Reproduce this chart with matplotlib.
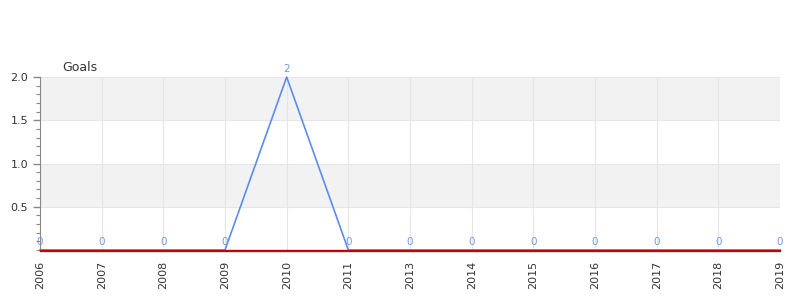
import matplotlib.pyplot as plt
from matplotlib.ticker import MultipleLocator, FixedLocator

years = ["2006", "2007", "2008", "2009", "2010", "2011", "2013",
         "2014", "2015", "2016", "2017", "2018", "2019"]
goals = [0, 0, 0, 0, 2, 0, 0, 0, 0, 0, 0, 0, 0]

fig = plt.figure(figsize=(8, 3), dpi=100)
ax = fig.add_axes((0.05, 0.1667, 0.925, 0.5766))

# spine position first: it resets the axis tick settings
for s in ["top", "right"]:
    ax.spines[s].set_visible(False)
ax.spines["bottom"].set_position(("outward", 1))
ax.spines["left"].set_color("#888888")
ax.spines["bottom"].set_color("#444444")
ax.spines["bottom"].set_linewidth(1)

x = list(range(len(years)))
ax.set_xlim(0, len(years) - 1)
ax.set_ylim(0, 2)

# alternating bands
ax.axhspan(0.5, 1.0, color="#f2f2f2", zorder=0, lw=0)
ax.axhspan(1.5, 2.0, color="#f2f2f2", zorder=0, lw=0)

ax.yaxis.set_major_locator(FixedLocator([0.5, 1.0, 1.5, 2.0]))
ax.yaxis.set_minor_locator(MultipleLocator(0.1))
ax.set_xticks(x)
ax.set_xticklabels(years, rotation=90, fontsize=8, color="#333333")
ax.tick_params(axis="y", labelsize=8, labelcolor="#333333", color="#888888",
               length=5, width=1)
ax.tick_params(axis="y", which="minor", color="#888888", length=3, width=0.8)
ax.tick_params(axis="x", length=0, pad=7)

ax.grid(True, color="#e6e6e6", lw=0.8, zorder=1)

ax.plot(x, goals, color="#5b8def", lw=1.2, zorder=3, clip_on=False)
# zero threshold line
ax.axhline(0, color="#c00000", lw=1.0, zorder=4, clip_on=False)

for xi, g in zip(x, goals):
    ax.annotate(str(g), (xi, g), xytext=(0, 2), textcoords="offset points",
                ha="center", va="bottom", fontsize=7.5, color="#6f9be8",
                zorder=5, annotation_clip=False)

fig.text(62 / 800, 1 - 67 / 300, "Goals", fontsize=9, color="#333333",
         va="center")

fig.savefig("out.png", dpi=100)
